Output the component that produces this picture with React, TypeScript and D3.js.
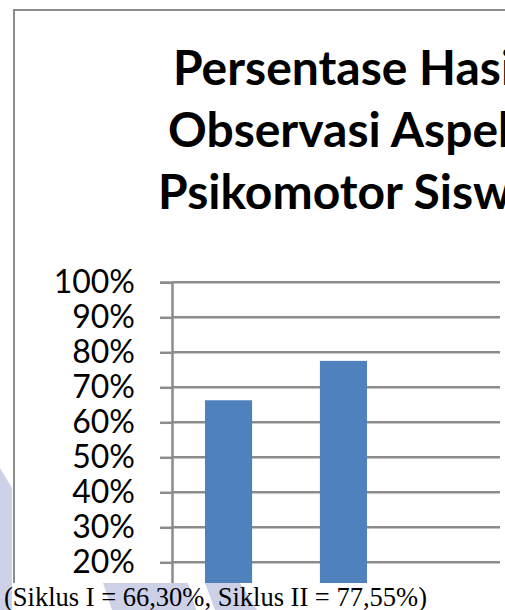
import { useEffect, useRef } from "react";
import * as d3 from "d3";

const categories = ["Siklus I", "Siklus II"];
const values = [0.663, 0.7755];
const yTicks = [0.2, 0.3, 0.4, 0.5, 0.6, 0.7, 0.8, 0.9, 1.0];
const titleLines = ["Persentase Hasil", "Observasi Aspek", "Psikomotor Siswa"];
const caption = "(Siklus I = 66,30%, Siklus II = 77,55%)";

const W = 505;
const H = 610;

const App = () => {
  const ref = useRef<SVGSVGElement | null>(null);

  useEffect(() => {
    if (!ref.current) return;
    const svg = d3.select(ref.current);
    svg.selectAll("*").remove();

    const grey = "#8c8c8c";
    const axisX = 172;
    const gridRight = 500;
    const captionTop = 583;

    const y = d3.scaleLinear().domain([0, 1]).range([632.3, 282.3]);
    const x = d3
      .scaleBand()
      .domain(categories)
      .range([axisX, 400])
      .paddingInner(0.59)
      .paddingOuter(0.287);

    svg.append("rect").attr("width", W).attr("height", H).attr("fill", "#fff");

    // chart frame (only top and left edges are in view)
    svg
      .append("rect")
      .attr("x", 14)
      .attr("y", 10)
      .attr("width", 700)
      .attr("height", 800)
      .attr("fill", "none")
      .attr("stroke", grey)
      .attr("stroke-width", 2);

    // title, cut by the right edge like in the source
    const titleX = [173, 168, 158];
    svg
      .append("g")
      .selectAll("text")
      .data(titleLines)
      .join("text")
      .attr("x", (_, i) => titleX[i])
      .attr("y", (_, i) => 85 + i * 62)
      .attr("font-family", "Lato, 'Open Sans', sans-serif")
      .attr("font-weight", 700)
      .attr("font-size", 48)
      .attr("fill", "#000")
      .text((d) => d);

    // gridlines
    svg
      .append("g")
      .selectAll("line")
      .data(yTicks)
      .join("line")
      .attr("x1", axisX)
      .attr("x2", gridRight)
      .attr("y1", (d) => y(d))
      .attr("y2", (d) => y(d))
      .attr("stroke", grey)
      .attr("stroke-width", 2.5);

    // bars
    svg
      .append("g")
      .selectAll("rect")
      .data(values)
      .join("rect")
      .attr("x", (_, i) => x(categories[i]) ?? 0)
      .attr("y", (d) => y(d))
      .attr("width", x.bandwidth())
      .attr("height", (d) => y(0) - y(d))
      .attr("fill", "#4f81bd");

    // y axis
    const yAxis = svg
      .append("g")
      .attr("transform", `translate(${axisX},0)`)
      .call(
        d3
          .axisLeft(y)
          .tickValues(yTicks)
          .tickFormat(d3.format(".0%"))
          .tickSize(12)
          .tickPadding(25)
      );
    yAxis.select(".domain").attr("stroke", grey).attr("stroke-width", 2.5);
    yAxis.selectAll(".tick line").attr("stroke", grey).attr("stroke-width", 2.5);
    yAxis
      .selectAll(".tick text")
      .attr("fill", "#000")
      .attr("font-family", "Lato, sans-serif")
      .attr("font-size", 32);

    // caption strip over the bottom of the chart
    svg
      .append("rect")
      .attr("x", 0)
      .attr("y", captionTop)
      .attr("width", W)
      .attr("height", H - captionTop)
      .attr("fill", "#fff");

    // faint watermark shapes
    const wm = "#cdd1e8";
    const shapes = [
      [[0, 468], [12, 488], [12, 610], [0, 610]],
      [[103, 583], [188, 583], [196, 610], [112, 610]],
      [[205, 583], [240, 583], [257, 610], [215, 610]],
    ];
    svg
      .append("g")
      .selectAll("path")
      .data(shapes)
      .join("path")
      .attr("d", (d) => d3.line()(d as [number, number][]) + "Z")
      .attr("fill", wm);

    svg
      .append("text")
      .attr("x", 4)
      .attr("y", 606)
      .attr("font-family", "'Liberation Serif', 'Times New Roman', serif")
      .attr("font-size", 26.5)
      .attr("fill", "#000")
      .text(caption);
  }, []);

  return (
    <svg
      ref={ref}
      width={W}
      height={H}
      style={{ position: "absolute", left: 0, top: 0, display: "block" }}
    ></svg>
  );
};

export default App;
